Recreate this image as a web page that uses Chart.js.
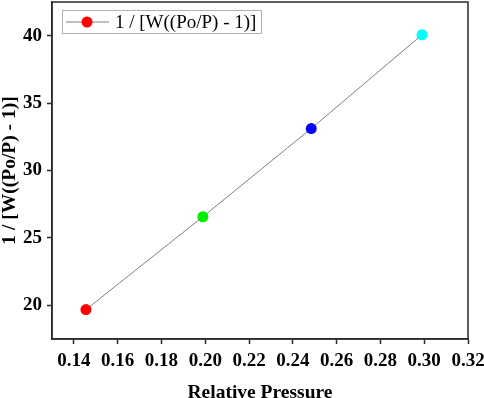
<!DOCTYPE html>
<html>
<head>
<meta charset="utf-8">
<script src="https://cdn.jsdelivr.net/npm/chart.js@4.4.1/dist/chart.umd.min.js"></script>
<style>
  html, body { margin: 0; padding: 0; background: #fff; }
  #wrap { width: 484px; height: 398px; }
</style>
</head>
<body>
<div id="wrap"><canvas id="bet" width="484" height="398"></canvas></div>
<script>
// values
const pressure = [0.1455, 0.1989, 0.2484, 0.2990];
const betValue = [19.68, 26.57, 33.11, 40.07];
const pointColors = ['#ff0000', '#00ee00', '#0000ff', '#00ffff'];
const seriesName = '1 / [W((Po/P) - 1)]';
const xTicks = [0.14, 0.16, 0.18, 0.20, 0.22, 0.24, 0.26, 0.28, 0.30, 0.32];
const yTicks = [20, 25, 30, 35, 40];

const serif = "'Liberation Serif', 'Times New Roman', serif";

// frame round the plot + boxed legend inside it
const frameAndLegend = {
    id: 'frameAndLegend',
    afterDraw(chart) {
        const ctx = chart.ctx;
        const a = chart.chartArea;
        ctx.save();
        ctx.strokeStyle = '#2a2a2a';
        ctx.lineWidth = 1.5;
        ctx.strokeRect(a.left, a.top, a.right - a.left, a.bottom - a.top);

        const lx = a.left + 10, ly = a.top + 8, lw = 199, lh = 23;
        ctx.lineWidth = 1;
        ctx.strokeStyle = '#b0b0b0';
        ctx.strokeRect(lx + 0.5, ly + 0.5, lw, lh);
        const cy = ly + lh / 2 + 0.5;
        ctx.strokeStyle = '#808080';
        ctx.beginPath();
        ctx.moveTo(lx + 4, cy);
        ctx.lineTo(lx + 47, cy);
        ctx.stroke();
        ctx.fillStyle = pointColors[0];
        ctx.beginPath();
        ctx.arc(lx + 25, cy, 5.5, 0, Math.PI * 2);
        ctx.fill();
        ctx.fillStyle = '#000';
        ctx.font = '19px ' + serif;
        ctx.textBaseline = 'middle';
        ctx.fillText(seriesName, lx + 53, cy + 1);
        ctx.restore();
    }
};

new Chart(document.getElementById('bet').getContext('2d'), {
    type: 'scatter',
    data: {
        datasets: [{
            label: seriesName,
            data: pressure.map((p, i) => ({ x: p, y: betValue[i] })),
            showLine: true,
            borderColor: '#808080',
            borderWidth: 1,
            pointBackgroundColor: pointColors,
            pointBorderColor: pointColors,
            pointBorderWidth: 0,
            pointRadius: 5.5,
            pointHoverRadius: 5.5
        }]
    },
    options: {
        responsive: false,
        animation: false,
        layout: { autoPadding: false, padding: { left: 0, right: 16, top: 2, bottom: 0 } },
        plugins: {
            legend: { display: false },
            tooltip: { enabled: false }
        },
        scales: {
            x: {
                type: 'linear',
                min: 0.13,
                max: 0.32,
                afterBuildTicks: (scale) => { scale.ticks = xTicks.map(v => ({ value: v })); },
                afterFit: (scale) => {
                    scale.height = 59;
                    scale.paddingLeft = 0;
                    scale.paddingRight = 0;
                },
                grid: { drawOnChartArea: false, tickLength: 5, tickColor: '#2a2a2a', tickWidth: 1.5 },
                border: { color: '#2a2a2a', width: 1.5 },
                ticks: {
                    color: '#000',
                    padding: 6,
                    maxRotation: 0,
                    autoSkip: false,
                    font: { family: serif, size: 19, weight: 'bold' },
                    callback: (v) => Number(v).toFixed(2)
                },
                title: {
                    display: true,
                    text: 'Relative Pressure',
                    color: '#000',
                    padding: { top: 0, bottom: -7 },
                    font: { family: serif, size: 19.5, weight: 'bold' }
                }
            },
            y: {
                min: 17.5,
                max: 42.5,
                afterBuildTicks: (scale) => { scale.ticks = yTicks.map(v => ({ value: v })); },
                afterFit: (scale) => {
                    scale.width = 52;
                    scale.paddingTop = 0;
                    scale.paddingBottom = 0;
                },
                grid: { drawOnChartArea: false, tickLength: 5, tickColor: '#2a2a2a', tickWidth: 1.5 },
                border: { color: '#2a2a2a', width: 1.5 },
                ticks: {
                    color: '#000',
                    padding: 5,
                    autoSkip: false,
                    font: { family: serif, size: 19, weight: 'bold' }
                },
                title: {
                    display: true,
                    text: seriesName,
                    color: '#000',
                    padding: { top: 0, bottom: 0 },
                    font: { family: serif, size: 19.5, weight: 'bold', lineHeight: 1 }
                }
            }
        }
    },
    plugins: [frameAndLegend]
});
</script>
</body>
</html>
